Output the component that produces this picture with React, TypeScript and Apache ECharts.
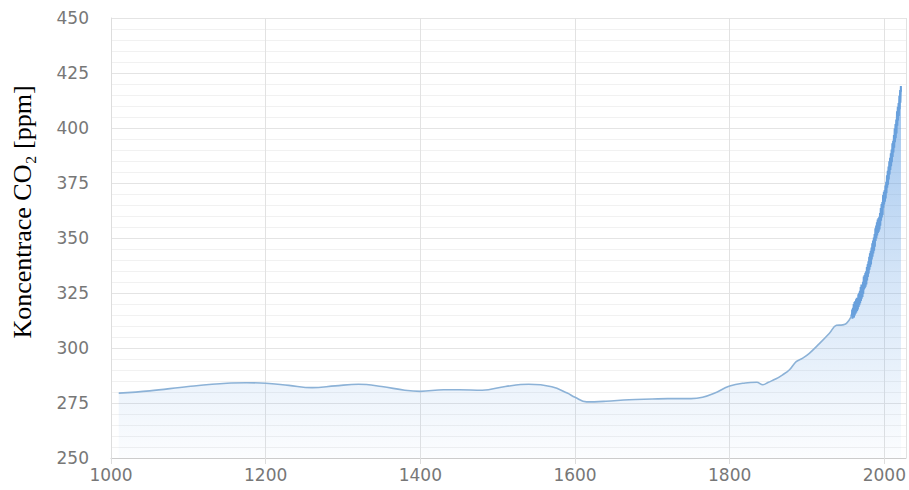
import React, { useEffect, useRef } from "react";
import * as echarts from "echarts";

// Ice-core (Law Dome-like) smoothed record, year -> ppm
const iceYears = [1010, 1050, 1100, 1150, 1175, 1200, 1230, 1260, 1290, 1320, 1350, 1380, 1400, 1430, 1450, 1480, 1510, 1540, 1570, 1590, 1600, 1615, 1640, 1670, 1700, 1720, 1750, 1765, 1780, 1800, 1820, 1835, 1843, 1850, 1860, 1868, 1877, 1886, 1894, 1903, 1916, 1929, 1938, 1946, 1951, 1957];
const iceValues = [279.5, 280.5, 282.5, 284, 284.2, 284, 283, 282, 282.8, 283.5, 282.5, 280.8, 280.3, 281, 281, 280.8, 282.5, 283.5, 282.4, 279.5, 277.6, 275.5, 275.8, 276.5, 276.8, 277, 277, 277.6, 279.4, 282.7, 284.1, 284.4, 283.3, 284.4, 286, 287.7, 290, 293.8, 295.3, 297.6, 302, 306.7, 310.3, 310.5, 311.2, 314.2];

// Direct measurements: seasonal peaks and troughs
const mlYears = [1958.21, 1958.38, 1958.75, 1959.38, 1959.75, 1960.38, 1960.75, 1961.38, 1961.75, 1962.38, 1962.75, 1963.38, 1963.75, 1964.38, 1964.75, 1965.38, 1965.75, 1966.38, 1966.75, 1967.38, 1967.75, 1968.38, 1968.75, 1969.38, 1969.75, 1970.38, 1970.75, 1971.38, 1971.75, 1972.38, 1972.75, 1973.38, 1973.75, 1974.38, 1974.75, 1975.38, 1975.75, 1976.38, 1976.75, 1977.38, 1977.75, 1978.38, 1978.75, 1979.38, 1979.75, 1980.38, 1980.75, 1981.38, 1981.75, 1982.38, 1982.75, 1983.38, 1983.75, 1984.38, 1984.75, 1985.38, 1985.75, 1986.38, 1986.75, 1987.38, 1987.75, 1988.38, 1988.75, 1989.38, 1989.75, 1990.38, 1990.75, 1991.38, 1991.75, 1992.38, 1992.75, 1993.38, 1993.75, 1994.38, 1994.75, 1995.38, 1995.75, 1996.38, 1996.75, 1997.38, 1997.75, 1998.38, 1998.75, 1999.38, 1999.75, 2000.38, 2000.75, 2001.38, 2001.75, 2002.38, 2002.75, 2003.38, 2003.75, 2004.38, 2004.75, 2005.38, 2005.75, 2006.38, 2006.75, 2007.38, 2007.75, 2008.38, 2008.75, 2009.38, 2009.75, 2010.38, 2010.75, 2011.38, 2011.75, 2012.38, 2012.75, 2013.38, 2013.75, 2014.38, 2014.75, 2015.38, 2015.75, 2016.38, 2016.75, 2017.38, 2017.75, 2018.38, 2018.75, 2019.38, 2019.75, 2020.38, 2020.75, 2021.38, 2021.5];
const mlValues = [315.7, 317.5, 313.3, 318.3, 313.8, 320.0, 313.8, 320.9, 314.8, 321.4, 315.6, 322.1, 316.1, 322.8, 316.8, 322.8, 317.5, 324.4, 318.6, 325.1, 319.4, 326.0, 320.3, 327.7, 321.4, 328.8, 322.4, 328.9, 323.2, 330.1, 324.6, 332.5, 326.6, 333.2, 327.2, 334.2, 327.8, 334.9, 328.9, 336.8, 330.7, 338.0, 332.3, 339.4, 333.8, 341.5, 335.6, 343.0, 336.8, 344.2, 338.0, 345.7, 340.2, 347.6, 341.5, 348.9, 343.0, 350.2, 344.2, 351.8, 346.0, 354.4, 348.6, 355.7, 349.9, 357.1, 351.2, 358.4, 352.3, 359.1, 352.9, 359.6, 353.9, 361.4, 355.6, 363.6, 357.8, 365.4, 359.3, 366.4, 360.5, 369.5, 363.8, 371.0, 365.2, 371.8, 366.5, 373.8, 368.0, 375.6, 370.4, 378.5, 372.8, 380.6, 374.2, 382.5, 376.6, 384.9, 378.8, 386.5, 380.9, 388.5, 382.6, 390.2, 384.4, 393.0, 386.8, 394.2, 388.9, 396.8, 391.0, 399.8, 393.5, 401.8, 395.3, 403.9, 397.5, 407.6, 401.0, 409.7, 403.4, 411.3, 405.5, 414.7, 408.5, 417.3, 411.5, 419.1, 416.5];

const yAxisTitle = "Koncentrace CO₂ [ppm]";

export default function App() {
  const ref = useRef<HTMLDivElement>(null);
  useEffect(() => {
    if (!ref.current) return;
    const chart = echarts.init(ref.current, null, { renderer: "svg" });
    const fill = {
      type: "linear",
      x: 0, y: 86, x2: 0, y2: 458,
      global: true,
      colorStops: [
        { offset: 0, color: "rgba(100,160,228,0.9)" },
        { offset: 0.5, color: "rgba(100,160,228,0.4)" },
        { offset: 1, color: "rgba(100,160,228,0.03)" },
      ],
    };
    const labelStyle = { color: "#777", fontFamily: "DejaVu Sans", fontSize: 17 };
    chart.setOption({
      animation: false,
      backgroundColor: "#fff",
      grid: { left: 111, right: 3, top: 18, bottom: 32, containLabel: false },
      xAxis: {
        type: "value",
        min: 1000,
        max: 2028,
        interval: 200,
        axisLine: { show: true, lineStyle: { color: "#ccc" } },
        axisTick: { show: true, length: 6, lineStyle: { color: "#ddd" } },
        axisLabel: {
          ...labelStyle,
          margin: 8,
          showMaxLabel: false,
          formatter: (v: number) => (v % 200 === 0 ? String(v) : ""),
        },
        splitLine: { show: true, lineStyle: { color: "#e2e2e2" } },
      },
      yAxis: {
        type: "value",
        min: 250,
        max: 450,
        interval: 25,
        axisLine: { show: true, lineStyle: { color: "#ddd" } },
        axisTick: { show: false },
        axisLabel: { ...labelStyle, margin: 22 },
        splitLine: { show: true, lineStyle: { color: "#e4e4e4" } },
        minorTick: { show: false, splitNumber: 5 },
        minorSplitLine: { show: true, lineStyle: { color: "#f1f1f1" } },
      },
      graphic: [
        {
          type: "text",
          x: 22,
          y: 212,
          rotation: Math.PI / 2,
          style: {
            text: yAxisTitle,
            font: '26px "Liberation Serif"',
            fill: "#000",
            align: "center",
            verticalAlign: "middle",
          },
        },
      ],
      series: [
        {
          type: "line",
          data: iceYears.map((y, i) => [y, iceValues[i]]),
          smooth: 0.4,
          showSymbol: false,
          lineStyle: { color: "rgb(140,178,215)", width: 1.6 },
          areaStyle: { color: fill, origin: "start" },
        },
        {
          type: "line",
          data: [[1957, 314.2], ...mlYears.map((y, i) => [y, mlValues[i]])],
          showSymbol: false,
          lineStyle: { color: "rgb(105,160,220)", width: 2 },
          areaStyle: { color: fill, origin: "start" },
        },
      ],
    });
    return () => chart.dispose();
  }, []);
  return <div ref={ref} style={{ width: 909, height: 490, position: "fixed", left: 0, top: 0 }} />;
}
